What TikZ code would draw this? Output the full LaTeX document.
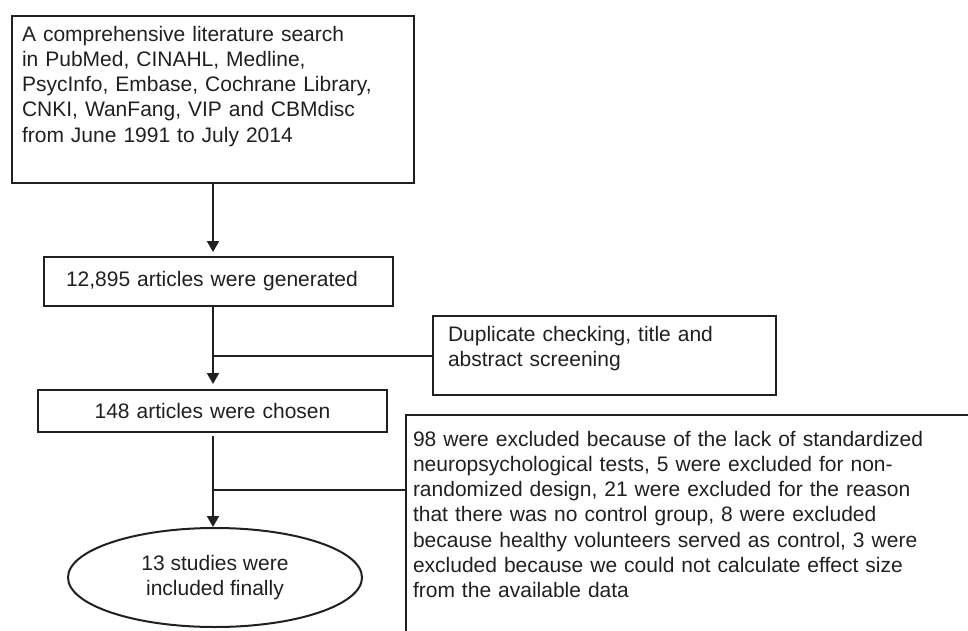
\documentclass[tikz,border=0pt]{standalone}
\usepackage{fontspec}
\setmainfont{Liberation Sans}
\usepackage{tikz}
\usetikzlibrary{arrows.meta, positioning, shapes.geometric}
\tikzset{>={Triangle[length=11pt,width=12pt]}}
\definecolor{ink}{RGB}{35,31,32}
\tikzset{
  box/.style={draw=ink, line width=2pt, text=ink, align=left, anchor=north west, inner sep=10pt},
  flow/.style={draw=ink, line width=2pt},
}

\begin{document}
\begin{tikzpicture}[x=1pt, y=-1pt, font=\fontsize{21}{25.2}\selectfont]
  \clip (0,0) rectangle (968,631);
  \node[box, text width=382pt, text depth=132pt] (search) at (11,15)
    {A comprehensive literature search\\
     in PubMed, CINAHL, Medline,\\
     PsycInfo, Embase, Cochrane Library,\\
     CNKI, WanFang, VIP and CBMdisc\\
     from June 1991 to July 2014};
  \node[box, text width=305pt, inner xsep=22pt, minimum height=49pt] (gen) at (43,256)
    {12,895 articles were generated};
  \node[box, text width=329pt, align=center, minimum height=42pt] (chosen) at (37,389)
    {148 articles were chosen};
  \node[box, text width=313pt, inner xsep=15pt, text depth=44pt] (dup) at (432,315)
    {Duplicate checking, title and\\
     abstract screening};
  \node[box, text width=600pt, inner xsep=7pt, inner ysep=16pt, text depth=220pt] (excl) at (405,414)
    {98 were excluded because of the lack of standardized\\
     neuropsychological tests, 5 were excluded for non-\\
     randomized design, 21 were excluded for the reason\\
     that there was no control group, 8 were excluded\\
     because healthy volunteers served as control, 3 were\\
     excluded because we could not calculate effect size\\
     from the available data};
  \node[draw=ink, line width=2pt, text=ink, ellipse, minimum width=294pt, minimum height=99pt,
        inner sep=0pt, align=center] (final) at (215,577.5)
    {13 studies were\\included finally};

  \draw[flow, ->, shorten >=4pt] (search.south) -- (search.south |- gen.north);
  \draw[flow, ->, shorten >=5pt] (search.south |- gen.south) -- (search.south |- chosen.north);
  \draw[flow, ->, shorten <=3pt] (search.south |- chosen.south) -- (search.south |- final.north);
  \draw[flow] (search.south |- dup.west) -- (dup.west);
  \coordinate (j2) at (212,490);
  \draw[flow] (j2) -- (j2 -| excl.west);
\end{tikzpicture}
\end{document}
